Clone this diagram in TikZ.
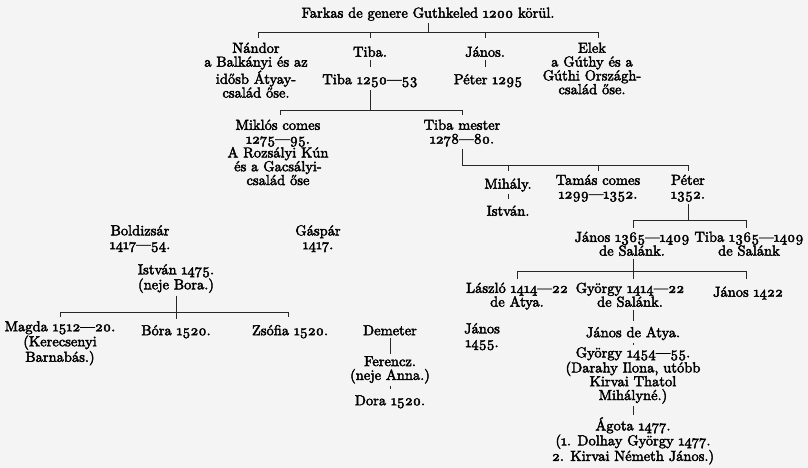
\documentclass[tikz,border=0pt]{standalone}
\usepackage{fontspec}
\setmainfont{lmroman10-regular.otf}
\definecolor{bg}{RGB}{244,244,244}
\newcommand\heavy{\special{pdf:literal direct 2 Tr}}
% old-style figures from the Latin Modern glyph set, trying several glyph names
% (falls back to lining digits when none is present)
\def\osdtry#1#2{\ifnum\XeTeXglyphindex "#1" >0 \XeTeXglyph\XeTeXglyphindex "#1" \else #2\fi}
\def\osd#1#2{\osdtry{#2.oldstyle}{\osdtry{#2oldstyle}{\osdtry{#2.osf}{\osdtry{#2.onum}{\osdtry{#2.taboldstyle}{#1}}}}}}
\def\osdig#1{\ifcase#1 \osd0{zero}\or\osd1{one}\or\osd2{two}\or\osd3{three}\or\osd4{four}\or\osd5{five}\or\osd6{six}\or\osd7{seven}\or\osd8{eight}\or\osd9{nine}\fi}
\def\osend{\osend}
\def\osloop#1{\ifx\osend#1\else\osdig{#1}\expandafter\osloop\fi}
\newcommand\os[1]{\osloop#1\osend}
\begin{document}
\begin{tikzpicture}[x=1pt,y=-1pt,
  t/.style={align=center,inner sep=0pt,anchor=north,yshift=14pt,
    font=\fontsize{14.5}{13.8}\selectfont,
    execute at begin node={\heavy\rule{0pt}{14pt}}},
  ln/.style={line width=0.8pt,draw=black!85},
  gap/.style={ln,shorten <=2.5pt,shorten >=2.5pt},
  tk/.style={ln,shorten >=4pt},
  dn/.style={ln,shorten <=2.5pt}]
\fill[bg] (0,0) rectangle (808,468);
\useasboundingbox (0,0) rectangle (808,468);
% nodes (positions: centre x, baseline of first line)
\node[t] (title) at (428,17.5) {Farkas de genere Guthkeled \os{1200} körül.};
\node[t] (nandor) at (256,56.5) {Nándor\\a Balkányi és az\\idősb Átyay-\\család őse.};
\node[t] (tibaA) at (370,56.5) {Tiba.};
\node[t] (janosA) at (485,56.5) {János.};
\node[t] (elek) at (592,56.5) {Elek\\a Gúthy és a\\Gúthi Országh-\\család őse.};
\node[t] (tibaB) at (370,84) {Tiba \os{1250}—\os{53}};
\node[t] (peterA) at (488,84) {Péter \os{1295}};
\node[t] (miklos) at (278,133.5) {Miklós comes\\\os{1275}—\os{95}.\\A Rozsályi Kún\\és a Gacsályi-\\család őse};
\node[t] (tibaM) at (462,133.5) {Tiba mester\\\os{1278}—\os{80}.};
\node[t] (mihaly) at (508,188.5) {Mihály.};
\node[t] (istvanA) at (508,215.5) {István.};
\node[t] (tamas) at (598,188.5) {Tamás comes\\\os{1299}—\os{1352}.};
\node[t] (peterB) at (688,188.5) {Péter\\\os{1352}.};
\node[t] (janosB) at (632,245.5) {János \os{1365}—\os{1409}\\de Salánk.};
\node[t] (tibaC) at (749,245.5) {Tiba \os{1365}—\os{1409}\\de Salánk};
\node[t] (laszlo) at (517,296.5) {László \os{1414}—\os{22}\\de Atya.};
\node[t] (gyorgyA) at (630,296.5) {György \os{1414}—\os{22}\\de Salánk.};
\node[t] (janosC) at (748,296.5) {János \os{1422}};
\node[t] (janosD) at (633,337) {János de Atya.};
\node[t] (gyorgyB) at (633,361) {György \os{1454}—\os{55}.\\(Darahy Ilona, utóbb\\Kirvai Thatol\\Mihályné.)};
\node[t] (agota) at (633,431) {Ágota \os{1477}.\\(\os{1}. Dolhay György \os{1477}.\\\os{2}. Kirvai Németh János.)};
\node[t] (janosE) at (482,337) {János\\\os{1455}.};
\node[t] (boldizsar) at (140,239) {Boldizsár\\\os{1417}—\os{54}.};
\node[t] (gaspar) at (318,239) {Gáspár\\\os{1417}.};
\node[t] (istvanB) at (176,278) {István \os{1475}.\\(neje Bora.)};
\node[t] (magda) at (60,335) {Magda \os{1512}—\os{20}.\\(Kerecsenyi\\Barnabás.)};
\node[t] (bora) at (176,335) {Bóra \os{1520}.};
\node[t] (zsofia) at (290,335) {Zsófia \os{1520}.};
\node[t] (demeter) at (390,335) {Demeter};
\node[t] (ferencz) at (390,370) {Ferencz.\\(neje Anna.)};
\node[t] (dora) at (390,405) {Dora \os{1520}.};
% bar coordinates
\coordinate (b1L) at (258,32); \coordinate (b1R) at (598,32);
\coordinate (b2L) at (280,110); \coordinate (b2R) at (462,110);
\coordinate (b3L) at (462,165); \coordinate (b3R) at (688,165);
\coordinate (b4L) at (633,220); \coordinate (b4R) at (746,220);
\coordinate (b5L) at (517,271); \coordinate (b5R) at (746,271);
\coordinate (b6L) at (60,312); \coordinate (b6R) at (288,312);
% generation 1
\draw[dn] (title.south) -- (title.south |- b1L);
\draw[ln] (b1L) -- (b1R);
\draw[tk] (b1L) -- (b1L |- nandor.north);
\draw[tk] (tibaA.north |- b1L) -- (tibaA.north);
\draw[tk] (janosA.north |- b1L) -- (janosA.north);
\draw[tk] (b1R) -- (b1R |- elek.north);
\draw[gap] (tibaA.south) -- (tibaA.south |- tibaB.north);
\draw[gap] (janosA.south) -- (janosA.south |- peterA.north);
% Tiba 1250-53
\draw[dn] (tibaB.south) -- (tibaB.south |- b2L);
\draw[ln] (b2L) -- (b2R);
\draw[tk] (b2L) -- (b2L |- miklos.north);
\draw[tk] (b2R) -- (b2R |- tibaM.north);
% Tiba mester
\draw[dn] (tibaM.south) -- (tibaM.south |- b3L);
\draw[ln] (b3L) -- (b3R);
\draw[tk] (mihaly.north |- b3L) -- (mihaly.north);
\draw[tk] (tamas.north |- b3L) -- (tamas.north);
\draw[tk] (b3R) -- (b3R |- peterB.north);
\draw[gap] (mihaly.south) -- (mihaly.south |- istvanA.north);
% Peter 1352
\draw[dn] (peterB.south) -- (peterB.south |- b4L);
\draw[ln] (b4L) -- (b4R);
\draw[tk] (b4L) -- (b4L |- janosB.north);
\draw[tk] (b4R) -- (b4R |- tibaC.north);
% Janos 1365-1409
\draw[dn] (b4L |- janosB.south) -- (b5L -| b4L);
\draw[ln] (b5L) -- (b5R);
\draw[tk] (b5L) -- (b5L |- laszlo.north);
\draw[tk] (b5L -| b4L) -- (b4L |- gyorgyA.north);
\draw[tk] (b5R) -- (b5R |- janosC.north);
\draw[gap] (janosD.north |- gyorgyA.south) -- (janosD.north);
\draw[gap] (janosD.south) -- (janosD.south |- gyorgyB.north);
\draw[gap] (gyorgyB.south) -- (gyorgyB.south |- agota.north);
% Istvan 1475
\draw[ln] (b6L) -- (b6R);
\draw[gap] (istvanB.south) -- (istvanB.south |- bora.north);
\draw[tk] (b6L) -- (b6L |- magda.north);
\draw[tk] (b6R) -- (b6R |- zsofia.north);
% Demeter
\draw[gap] (demeter.south) -- (demeter.south |- ferencz.north);
\draw[gap] (ferencz.south) -- (ferencz.south |- dora.north);
\end{tikzpicture}
\end{document}
